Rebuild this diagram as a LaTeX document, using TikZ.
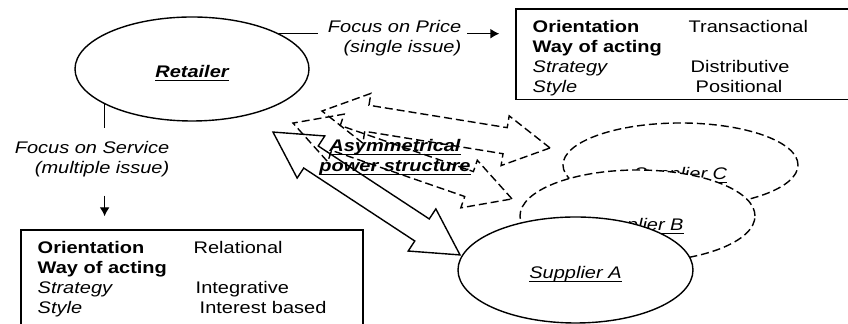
\documentclass[tikz,border=0pt]{standalone}
\usepackage{fontspec}
\setmainfont{Liberation Sans}[FakeStretch=1.19]
\usetikzlibrary{shapes.geometric,shapes.arrows,arrows.meta}
\newcommand{\basefont}{\fontsize{8.4}{10}\selectfont}
\newcommand{\ulabel}[1]{\underline{\raisebox{0pt}[\height][0pt]{#1}}}
\newcommand{\boxrow}[3]{\makebox[#1][l]{#2}#3}
\begin{document}
\begin{tikzpicture}[x=0.5pt, y=-0.5pt, >={Latex[length=4.5pt,width=5pt]}, line width=0.7pt, font=\basefont,
	party/.style={ellipse, draw, fill=white, minimum width=117.5pt, text depth=0pt, font=\basefont\itshape},
	rival/.style={party, dash pattern=on 4pt off 2pt},
	infobox/.style={draw, rectangle},
	boxtext/.style={align=left, inner sep=0pt, anchor=north west},
	issue/.style={align=right, inner sep=0pt, anchor=north east, font=\basefont\itshape},
	powerarrow/.style={double arrow, draw, minimum width=0pt, inner xsep=0pt, inner ysep=6.25pt, double arrow head extend=6pt, double arrow tip angle=58}]
		\clip (0,0) rectangle (848,324);
		% power relations
		\node[powerarrow, dash pattern=on 4pt off 2pt, minimum height=115.5pt, rotate=-9.2] (toC) at (436,129.5) {};
		\node[powerarrow, dash pattern=on 4pt off 2pt, minimum height=115.9pt, rotate=-19.1] (toB) at (402.5,161) {};
		\node[rival, minimum height=42pt, text height=15pt] (supC) at (680.5,165) {\ulabel{Supplier C}};
		\node[rival, minimum height=46pt, text height=15pt] (supB) at (637.5,216) {\ulabel{Supplier B}};
		\node[party, minimum height=53pt, text height=9pt] (supA) at (575.5,270) {\ulabel{Supplier A}};
		\node[powerarrow, minimum height=111.9pt, rotate=-33.3] (toA) at (366.5,193.5) {};
		\node[font=\basefont\bfseries\itshape, align=center, inner sep=0pt] (power) at (395,157.5) {\ulabel{Asymmetrical}\\\ulabel{power structure}};
		% retailer and its two foci
		\node[party, minimum width=117pt, minimum height=52pt, text height=9pt, font=\basefont\bfseries\itshape] (retailer) at (192,69) {\ulabel{Retailer}};
		\node[issue] (pricelabel) at (462,20) {Focus on Price\\(single issue)};
		\node[infobox, minimum width=172pt, minimum height=45.25pt] (pricebox) at (688,54.25) {};
		\node[boxtext] (pricetext) at (532,20) {\boxrow{78pt}{\textbf{Orientation}}{Transactional}\\\textbf{Way of acting}\\\boxrow{79pt}{\textit{Strategy}}{Distributive}\\\boxrow{81.5pt}{\textit{Style}}{Positional}};
		\draw[shorten >=4.5pt] (retailer.22) -- (retailer.22 -| pricelabel.west);
		\draw[->, shorten <=2.5pt, shorten >=8pt] (retailer.22 -| pricelabel.east) -- (retailer.22 -| pricebox.west);
		\node[issue] (servicelabel) at (170,141) {Focus on Service\\(multiple issue)};
		\node[infobox, minimum width=171pt, minimum height=50pt] (relbox) at (192,280) {};
		\node[boxtext] (reltext) at (37,241) {\boxrow{78pt}{\textbf{Orientation}}{Relational}\\\textbf{Way of acting}\\\boxrow{79pt}{\textit{Strategy}}{Integrative}\\\boxrow{81pt}{\textit{Style}}{Interest based}};
		\draw[shorten >=6.5pt] (retailer.202) -- (retailer.202 |- servicelabel.north);
		\draw[->, shorten <=8.75pt, shorten >=6.5pt] (retailer.202 |- servicelabel.south) -- (retailer.202 |- relbox.north);
\end{tikzpicture}
\end{document}
